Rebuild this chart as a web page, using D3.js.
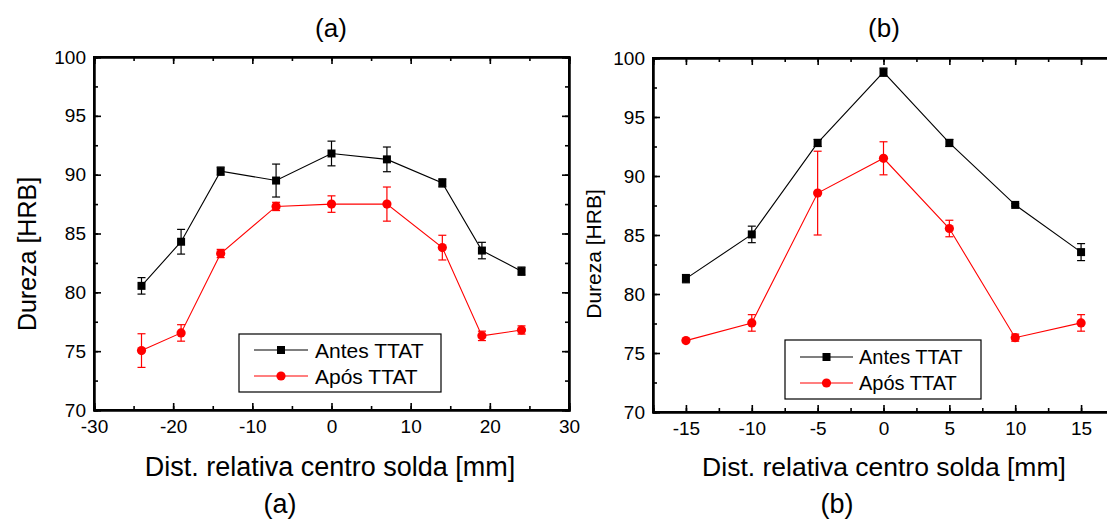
<!DOCTYPE html>
<html>
<head>
<meta charset="utf-8">
<script src="https://cdn.jsdelivr.net/npm/d3@7"></script>
<style>
  html, body { margin: 0; padding: 0; background: #fff; }
  svg { display: block; font-family: "Liberation Sans", Arial, sans-serif; }
</style>
</head>
<body>
<svg id="chart" width="1107" height="520"></svg>
<script>
// ---- data ----
const seriesNames = ["Antes TTAT", "Após TTAT"];
const yTickLabels = [70, 75, 80, 85, 90, 95, 100];

const xA = [-24, -19, -14, -7, 0, 7, 14, 19, 24];
const antesA = [80.55, 84.3, 90.3, 89.5, 91.8, 91.3, 89.3, 83.55, 81.8];
const antesAErr = [0.7, 1.05, 0.35, 1.4, 1.05, 1.05, 0.35, 0.7, 0.35];
const aposA = [75.05, 76.55, 83.3, 87.3, 87.5, 87.5, 83.8, 76.3, 76.8];
const aposAErr = [1.43, 0.7, 0.35, 0.35, 0.7, 1.45, 1.05, 0.4, 0.35];
const xTicksA = [-30, -20, -10, 0, 10, 20, 30];

const xB = [-15, -10, -5, 0, 5, 10, 15];
const antesB = [81.3, 85.05, 92.8, 98.8, 92.8, 87.55, 83.55];
const antesBErr = [0.35, 0.7, 0.3, 0.35, 0.3, 0.1, 0.72];
const aposB = [76.05, 77.55, 88.55, 91.5, 85.55, 76.3, 77.55];
const aposBErr = [0.1, 0.7, 3.55, 1.4, 0.7, 0.3, 0.7];
const xTicksB = [-15, -10, -5, 0, 5, 10, 15];

const svg = d3.select("#chart");
const fmt = d => String(d);

function drawPanel(cfg) {
  const g = svg.append("g");
  const x = d3.scaleLinear().domain(cfg.xDomain).range([cfg.left, cfg.right]);
  const y = d3.scaleLinear().domain([70, 100]).range([cfg.bottom, cfg.top]);

  const majorLen = 7, minorLen = 4;
  const xMinor = d3.range(cfg.xDomain[0], cfg.xDomain[1] + 0.001, cfg.xMinorStep);
  const yMinor = d3.range(70, 100.001, 2.5);

  const axB = g.append("g").attr("transform", `translate(0,${cfg.bottom})`)
    .call(d3.axisBottom(x).tickValues(cfg.xTicks).tickSize(-majorLen).tickPadding(10).tickFormat(fmt));
  const axBm = g.append("g").attr("transform", `translate(0,${cfg.bottom})`)
    .call(d3.axisBottom(x).tickValues(xMinor).tickSize(-minorLen).tickFormat(""));
  const axT = g.append("g").attr("transform", `translate(0,${cfg.top})`)
    .call(d3.axisTop(x).tickValues(cfg.xTicks).tickSize(-majorLen).tickFormat(""));
  const axTm = g.append("g").attr("transform", `translate(0,${cfg.top})`)
    .call(d3.axisTop(x).tickValues(xMinor).tickSize(-minorLen).tickFormat(""));
  const axL = g.append("g").attr("transform", `translate(${cfg.left},0)`)
    .call(d3.axisLeft(y).tickValues(yTickLabels).tickSize(-majorLen).tickPadding(8).tickFormat(fmt));
  const axLm = g.append("g").attr("transform", `translate(${cfg.left},0)`)
    .call(d3.axisLeft(y).tickValues(yMinor).tickSize(-minorLen).tickFormat(""));
  const axR = g.append("g").attr("transform", `translate(${cfg.right},0)`)
    .call(d3.axisRight(y).tickValues(yTickLabels).tickSize(-majorLen).tickFormat(""));
  const axRm = g.append("g").attr("transform", `translate(${cfg.right},0)`)
    .call(d3.axisRight(y).tickValues(yMinor).tickSize(-minorLen).tickFormat(""));

  [axB, axBm, axT, axTm, axL, axLm, axR, axRm].forEach(a => {
    a.select(".domain").attr("stroke", "#000").attr("stroke-width", 2);
    a.selectAll(".tick line").attr("stroke", "#000").attr("stroke-width", 1.6);
    a.selectAll("text").attr("font-size", 19).attr("fill", "#000")
      .attr("font-family", '"Liberation Sans", Arial, sans-serif');
  });

  g.append("rect").attr("x", cfg.left).attr("y", cfg.top)
    .attr("width", cfg.right - cfg.left).attr("height", cfg.bottom - cfg.top)
    .attr("fill", "none").attr("stroke", "#000").attr("stroke-width", 2);

  const series = [
    { name: seriesNames[0], vals: cfg.antes, err: cfg.antesErr, color: "#000000", shape: "square" },
    { name: seriesNames[1], vals: cfg.apos, err: cfg.aposErr, color: "#ff0000", shape: "circle" }
  ];

  const line = d3.line().x(d => x(d.x)).y(d => y(d.v));
  const capW = 4;
  series.forEach(s => {
    const pts = cfg.xs.map((xv, i) => ({ x: xv, v: s.vals[i], e: s.err[i] }));
    const eb = g.append("g").attr("stroke", s.color).attr("stroke-width", 1.2);
    pts.forEach(p => {
      const cx = x(p.x), y1 = y(p.v + p.e), y2 = y(p.v - p.e);
      eb.append("line").attr("x1", cx).attr("x2", cx).attr("y1", y1).attr("y2", y2);
      eb.append("line").attr("x1", cx - capW).attr("x2", cx + capW).attr("y1", y1).attr("y2", y1);
      eb.append("line").attr("x1", cx - capW).attr("x2", cx + capW).attr("y1", y2).attr("y2", y2);
    });
    g.append("path").datum(pts).attr("d", line).attr("fill", "none")
      .attr("stroke", s.color).attr("stroke-width", 1.1);
    pts.forEach(p => {
      if (s.shape === "square") {
        g.append("rect").attr("x", x(p.x) - 4).attr("y", y(p.v) - 4)
          .attr("width", 8).attr("height", 8).attr("fill", s.color);
      } else {
        g.append("circle").attr("cx", x(p.x)).attr("cy", y(p.v)).attr("r", 4.6).attr("fill", s.color);
      }
    });
  });

  const L = cfg.legend;
  const lg = g.append("g");
  lg.append("rect").attr("x", L.x).attr("y", L.y).attr("width", L.w).attr("height", L.h)
    .attr("fill", "#fff").attr("stroke", "#000").attr("stroke-width", 1.2);
  series.forEach((s, i) => {
    const ry = L.y + L.row0 + i * L.rowGap;
    lg.append("line").attr("x1", L.x + L.lineX0).attr("x2", L.x + L.lineX1)
      .attr("y1", ry).attr("y2", ry).attr("stroke", s.color).attr("stroke-width", 1.1);
    const mx = L.x + (L.lineX0 + L.lineX1) / 2;
    if (s.shape === "square") {
      lg.append("rect").attr("x", mx - 4).attr("y", ry - 4).attr("width", 8).attr("height", 8).attr("fill", s.color);
    } else {
      lg.append("circle").attr("cx", mx).attr("cy", ry).attr("r", 4.6).attr("fill", s.color);
    }
    lg.append("text").attr("x", L.x + L.textX).attr("y", ry).attr("dy", "0.36em")
      .attr("font-size", L.fs).text(s.name);
  });

  g.append("text").attr("x", cfg.topLabelX).attr("y", 37).attr("text-anchor", "middle")
    .attr("font-size", 26).text(cfg.label);
  g.append("text").attr("x", cfg.bottomLabelX).attr("y", 513).attr("text-anchor", "middle")
    .attr("font-size", 27).text(cfg.label);
  g.append("text").attr("x", cfg.xTitleCenter).attr("y", 476)
    .attr("text-anchor", "middle").attr("font-size", cfg.xTitleFs).text("Dist. relativa centro solda [mm]");
  g.append("text").attr("transform", `translate(${cfg.yTitleX},${cfg.yTitleY}) rotate(-90)`)
    .attr("text-anchor", "middle").attr("font-size", cfg.yTitleFs).text("Dureza [HRB]");
}

drawPanel({
  label: "(a)", xDomain: [-30, 30], xTicks: xTicksA, xMinorStep: 5,
  left: 94, right: 569, top: 57, bottom: 410,
  xs: xA, antes: antesA, antesErr: antesAErr, apos: aposA, aposErr: aposAErr,
  legend: { x: 239, y: 334, w: 202, h: 58, row0: 16, rowGap: 26, lineX0: 15, lineX1: 69, textX: 76, fs: 21 },
  topLabelX: 331, bottomLabelX: 280, xTitleCenter: 330, xTitleFs: 27, yTitleX: 36, yTitleY: 254, yTitleFs: 25
});

drawPanel({
  label: "(b)", xDomain: [-17.5, 17.5], xTicks: xTicksB, xMinorStep: 2.5,
  left: 653, right: 1114, top: 58, bottom: 412,
  xs: xB, antes: antesB, antesErr: antesBErr, apos: aposB, aposErr: aposBErr,
  legend: { x: 785, y: 340, w: 196, h: 59, row0: 17, rowGap: 26, lineX0: 15, lineX1: 68, textX: 74, fs: 20 },
  topLabelX: 884, bottomLabelX: 837, xTitleCenter: 884, xTitleFs: 26.5, yTitleX: 601, yTitleY: 254, yTitleFs: 21
});
</script>
</body>
</html>
